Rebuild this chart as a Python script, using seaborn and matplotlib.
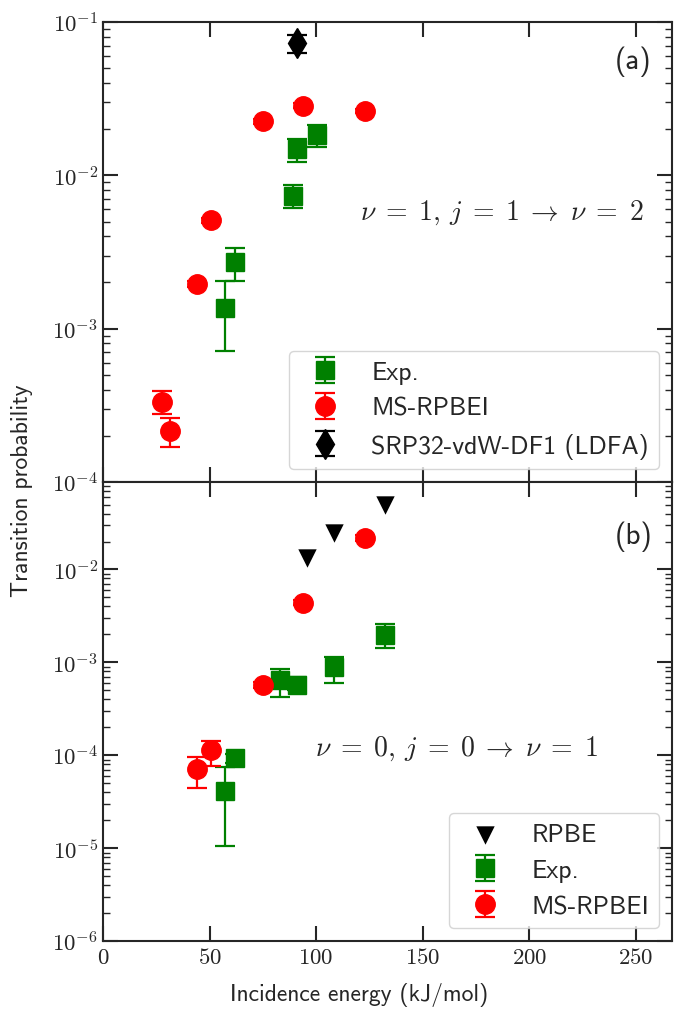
import numpy as np
import matplotlib
matplotlib.use("Agg")
import matplotlib.pyplot as plt
import seaborn as sns
from matplotlib.ticker import FuncFormatter, LogLocator, NullFormatter

# ---------------- data: panel (a)  v=1, j=1 -> v=2 ----------------
a_exp_E = [57.4, 62.0, 89.1, 90.9, 100.6]
a_exp_P = [1.37e-3, 2.71e-3, 7.34e-3, 1.48e-2, 1.84e-2]
a_exp_lo = [7.16e-4, 2.06e-3, 6.14e-3, 1.23e-2, 1.53e-2]
a_exp_hi = [2.04e-3, 3.36e-3, 8.61e-3, 1.73e-2, 2.13e-2]

a_ms_E = [27.5, 31.5, 44.0, 50.5, 75.3, 93.7, 122.7]
a_ms_P = [3.34e-4, 2.13e-4, 1.96e-3, 5.10e-3, 2.25e-2, 2.85e-2, 2.64e-2]
a_ms_lo = [2.78e-4, 1.68e-4, 1.88e-3, 4.90e-3, 2.17e-2, 2.75e-2, 2.55e-2]
a_ms_hi = [3.92e-4, 2.60e-4, 2.04e-3, 5.30e-3, 2.33e-2, 2.95e-2, 2.73e-2]

a_srp_E = [90.9]
a_srp_P = [7.27e-2]
a_srp_lo = [6.3e-2]
a_srp_hi = [8.3e-2]

# ---------------- data: panel (b)  v=0, j=0 -> v=1 ----------------
b_rpbe_E = [95.9, 108.5, 132.5]
b_rpbe_P = [1.33e-2, 2.50e-2, 4.94e-2]

b_exp_E = [57.4, 62.0, 83.2, 90.9, 108.5, 132.4]
b_exp_P = [4.17e-5, 9.3e-5, 6.4e-4, 5.7e-4, 9.0e-4, 1.97e-3]
b_exp_lo = [1.06e-5, 8.3e-5, 4.2e-4, 5.0e-4, 5.94e-4, 1.42e-3]
b_exp_hi = [7.55e-5, 1.03e-4, 8.47e-4, 6.9e-4, 1.15e-3, 2.56e-3]

b_ms_E = [44.0, 50.5, 75.3, 93.7, 122.7]
b_ms_P = [7.13e-5, 1.14e-4, 5.7e-4, 4.38e-3, 2.19e-2]
b_ms_lo = [4.42e-5, 7.75e-5, 5.3e-4, 4.1e-3, 2.05e-2]
b_ms_hi = [9.68e-5, 1.44e-4, 6.1e-4, 4.7e-3, 2.35e-2]

x_ticks = [0, 50, 100, 150, 200, 250]

sns.set_style("ticks")
plt.rcParams["mathtext.fontset"] = "cm"
plt.rcParams["font.family"] = ["cmss10", "DejaVu Sans"]
plt.rcParams["axes.unicode_minus"] = False

SANS = ["cmss10", "DejaVu Sans"]

fig = plt.figure(figsize=(6.75, 10.12), dpi=100)
gs = fig.add_gridspec(2, 1, hspace=0)
fig.subplots_adjust(left=0.1526, right=0.9956, top=0.977, bottom=0.069)
ax1 = fig.add_subplot(gs[0])
ax2 = fig.add_subplot(gs[1], sharex=ax1)


def err(P, lo, hi):
    P = np.asarray(P)
    return np.vstack([P - np.asarray(lo), np.asarray(hi) - P])


eb_kw = dict(linestyle="none", elinewidth=1.6, capsize=7.5, capthick=1.6)

h_a_exp = ax1.errorbar(a_exp_E, a_exp_P, yerr=err(a_exp_P, a_exp_lo, a_exp_hi),
                       fmt="s", color="green", ms=13.5, label="Exp.", **eb_kw)
h_a_ms = ax1.errorbar(a_ms_E, a_ms_P, yerr=err(a_ms_P, a_ms_lo, a_ms_hi),
                      fmt="o", color="red", ms=14, label="MS-RPBEI", **eb_kw)
h_a_srp = ax1.errorbar(a_srp_E, a_srp_P, yerr=err(a_srp_P, a_srp_lo, a_srp_hi),
                       fmt="d", color="black", ms=15.5, label="SRP32-vdW-DF1 (LDFA)", **eb_kw)

sns.scatterplot(x=b_rpbe_E, y=b_rpbe_P, marker="v", s=175, color="black",
                edgecolor="black", linewidth=0, label="RPBE", ax=ax2, zorder=3)
h_b_rpbe = ax2.collections[-1]
h_b_exp = ax2.errorbar(b_exp_E, b_exp_P, yerr=err(b_exp_P, b_exp_lo, b_exp_hi),
                       fmt="s", color="green", ms=13.5, label="Exp.", **eb_kw)
h_b_ms = ax2.errorbar(b_ms_E, b_ms_P, yerr=err(b_ms_P, b_ms_lo, b_ms_hi),
                      fmt="o", color="red", ms=14, label="MS-RPBEI", **eb_kw)

for ax in (ax1, ax2):
    ax.set_yscale("log")
    for s in ax.spines.values():
        s.set_linewidth(1.5)
    ax.tick_params(which="major", direction="in", length=11, width=1.5,
                   top=True, right=True, labelsize=16.5)
    ax.tick_params(which="minor", direction="in", length=5, width=1,
                   top=True, right=True)
    ax.yaxis.set_major_locator(LogLocator(base=10, numticks=20))
    ax.yaxis.set_minor_locator(LogLocator(base=10, subs=np.arange(2, 10), numticks=20))
    ax.yaxis.set_minor_formatter(NullFormatter())
    ax.yaxis.set_major_formatter(FuncFormatter(lambda v, p: r"$10^{%d}$" % round(np.log10(v))))

ax1.set_xlim(0, 267)
ax1.set_xticks(x_ticks)
ax2.xaxis.set_major_formatter(FuncFormatter(lambda v, p: r"$%d$" % v))
ax1.tick_params(labelbottom=False)
ax1.set_ylim(1e-4, 1e-1)
ax2.set_ylim(1e-6, 0.088)

leg_kw = dict(loc="lower right", prop={"family": SANS, "size": 18.5}, framealpha=0.8)
ax1.legend([h_a_exp, h_a_ms, h_a_srp], ["Exp.", "MS-RPBEI", "SRP32-vdW-DF1 (LDFA)"], **leg_kw)
ax2.legend([h_b_rpbe, h_b_exp, h_b_ms], ["RPBE", "Exp.", "MS-RPBEI"], **leg_kw)

ax1.text(0.452, 0.588, r"$\nu\;=\;1,\,j\;=\;1\;\rightarrow\;\nu\;=\;2$", transform=ax1.transAxes,
         fontsize=20, ha="left", va="center")
ax2.text(0.373, 0.42, r"$\nu\;=\;0,\,j\;=\;0\;\rightarrow\;\nu\;=\;1$", transform=ax2.transAxes,
         fontsize=20, ha="left", va="center")
ax1.text(0.932, 0.916, "(a)", transform=ax1.transAxes, fontsize=21, family=SANS,
         ha="center", va="center")
ax2.text(0.932, 0.883, "(b)", transform=ax2.transAxes, fontsize=21, family=SANS,
         ha="center", va="center")

fig.text(0.532, 0.017, "Incidence energy (kJ/mol)", fontsize=17, family=SANS,
         ha="center", va="center")
fig.text(0.033, 0.515, "Transition probability", fontsize=17, family=SANS,
         ha="center", va="center", rotation=90)

fig.savefig("out.png", dpi=100)
